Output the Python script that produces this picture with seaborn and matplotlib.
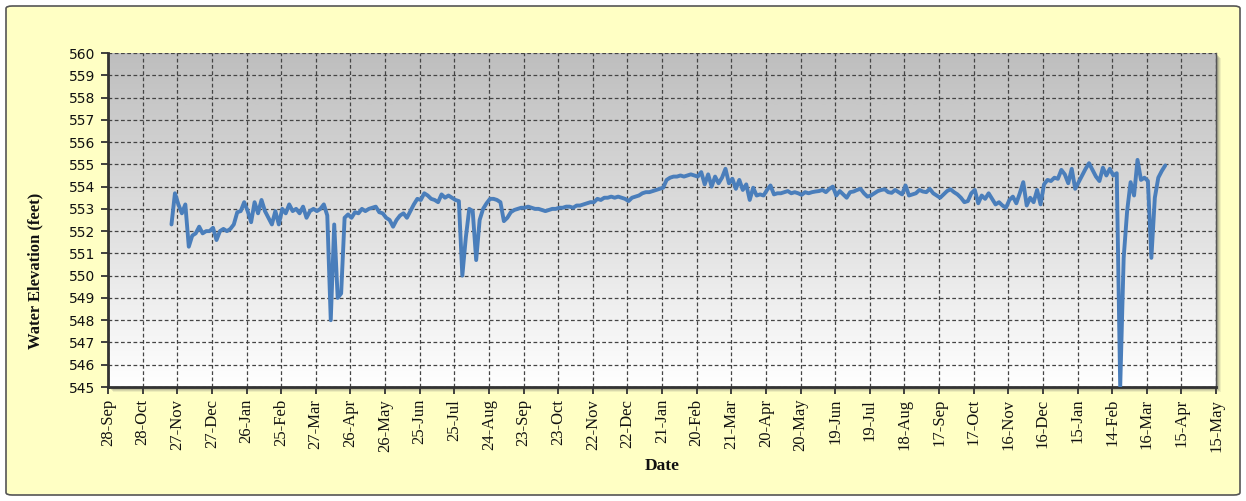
import numpy as np
import pandas as pd
import matplotlib
matplotlib.use('Agg')
import matplotlib.pyplot as plt
from matplotlib.colors import LinearSegmentedColormap
from matplotlib.patches import FancyBboxPatch, Rectangle
import seaborn as sns

# water elevation readings, one every 3 days starting 22-Nov-2010
start_date = '2010-11-22'
step_days = 3
elevation = [
    552.3, 553.7, 553.2, 552.8, 553.2, 551.3, 551.8, 551.9, 552.2, 551.9,
    552.0, 552.0, 552.15, 551.6, 552.0, 552.1, 552.0, 552.1, 552.3, 552.85,
    552.9, 553.3, 552.9, 552.4, 553.3, 552.8, 553.4, 552.9, 552.6, 552.3,
    552.9, 552.3, 553.0, 552.8, 553.2, 552.9, 553.0, 552.8, 553.1, 552.6,
    552.9, 553.0, 552.9, 553.0, 553.2, 552.7, 548.0, 552.3, 549.0, 549.2,
    552.6, 552.75, 552.6, 552.85, 552.8, 553.0, 552.9, 553.0, 553.05, 553.1,
    552.85, 552.8, 552.6, 552.5, 552.2, 552.5, 552.7, 552.8, 552.6, 552.9,
    553.2, 553.45, 553.4, 553.7, 553.6, 553.45, 553.4, 553.3, 553.65, 553.5,
    553.6, 553.5, 553.4, 553.35, 550.0, 551.7, 553.0, 552.9, 550.7, 552.5,
    553.0, 553.25, 553.45, 553.45, 553.4, 553.3, 552.45, 552.6, 552.85, 552.95,
    553.0, 553.05, 553.05, 553.1, 553.05, 553.0, 553.0, 552.95, 552.9, 552.95,
    553.0, 553.0, 553.05, 553.05, 553.1, 553.1, 553.05, 553.15, 553.15, 553.2,
    553.25, 553.3, 553.3, 553.45, 553.4, 553.5, 553.5, 553.55, 553.5, 553.55,
    553.5, 553.45, 553.35, 553.5, 553.55, 553.6, 553.7, 553.75, 553.75, 553.8,
    553.85, 553.9, 553.95, 554.3, 554.4, 554.45, 554.45, 554.5, 554.45, 554.5,
    554.55, 554.5, 554.45, 554.65, 554.1, 554.55, 554.0, 554.45, 554.15, 554.4,
    554.8, 554.15, 554.35, 553.9, 554.3, 553.85, 554.1, 553.4, 553.95, 553.6,
    553.65, 553.6, 553.85, 554.05, 553.65, 553.7, 553.7, 553.75, 553.8, 553.7,
    553.75, 553.7, 553.63, 553.75, 553.7, 553.75, 553.78, 553.8, 553.85, 553.75,
    553.9, 554.0, 553.6, 553.8, 553.65, 553.5, 553.75, 553.78, 553.85, 553.9,
    553.7, 553.55, 553.6, 553.7, 553.8, 553.85, 553.88, 553.75, 553.72, 553.85,
    553.75, 553.65, 554.05, 553.6, 553.65, 553.7, 553.85, 553.78, 553.75, 553.9,
    553.7, 553.6, 553.5, 553.65, 553.8, 553.88, 553.75, 553.65, 553.5, 553.3,
    553.35, 553.7, 553.85, 553.25, 553.6, 553.45, 553.7, 553.45, 553.2, 553.3,
    553.15, 553.05, 553.4, 553.55, 553.25, 553.7, 554.2, 553.15, 553.5, 553.3,
    553.85, 553.2, 554.1, 554.3, 554.25, 554.4, 554.35, 554.75, 554.55, 554.15,
    554.8, 553.9, 554.2, 554.5, 554.8, 555.05, 554.75, 554.45, 554.25, 554.85,
    554.5, 554.8, 554.5, 554.6, 545.0, 550.8, 552.9, 554.2, 553.6, 555.2,
    554.3, 554.4, 554.25, 550.8, 553.5, 554.4, 554.7, 554.95,
]

tick_start = '2010-09-28'
tick_labels = ['28-Sep', '28-Oct', '27-Nov', '27-Dec', '26-Jan', '25-Feb', '27-Mar',
               '26-Apr', '26-May', '25-Jun', '25-Jul', '24-Aug', '23-Sep', '23-Oct',
               '22-Nov', '22-Dec', '21-Jan', '20-Feb', '21-Mar', '20-Apr', '20-May',
               '19-Jun', '19-Jul', '18-Aug', '17-Sep', '17-Oct', '16-Nov', '16-Dec',
               '15-Jan', '14-Feb', '16-Mar', '15-Apr', '15-May']
y_ticks = list(range(545, 561))

df = pd.DataFrame({
    'Date': pd.date_range(start_date, periods=len(elevation), freq=f'{step_days}D'),
    'Elevation': elevation,
})
tick_dates = pd.date_range(tick_start, periods=len(tick_labels), freq='30D')

sns.set_style('ticks')
plt.rcParams['font.family'] = ['DejaVu Sans']

W, H = 1246, 501
fig = plt.figure(figsize=(W / 100, H / 100), dpi=100)
fig.patch.set_facecolor('white')

# yellow chart frame
frame = FancyBboxPatch((6 / W, 6 / H), 1234 / W, 489 / H,
                       boxstyle='round,pad=0,rounding_size=0.005',
                       transform=fig.transFigure, facecolor='#FFFFC4',
                       edgecolor='#555555', linewidth=1.2, zorder=-3)
fig.patches.append(frame)

left, right, top, bottom = 108, 1216, 53, 387
ax = fig.add_axes([left / W, (H - bottom) / H, (right - left) / W, (bottom - top) / H])

# soft drop shadow for plot area
for off, a in [(5, 0.10), (4, 0.15), (3, 0.2), (2, 0.25)]:
    fig.patches.append(Rectangle(((left + off) / W, (H - bottom - off) / H),
                                 (right - left) / W, (bottom - top) / H,
                                 transform=fig.transFigure, facecolor='#606060',
                                 edgecolor='none', alpha=a, zorder=-2))

sns.lineplot(data=df, x='Date', y='Elevation', color='#4A7EBB', linewidth=2.8, ax=ax, zorder=3)

grad = LinearSegmentedColormap.from_list('bg', ['#BEBEBE', '#FFFFFF'], N=1024)
ax.imshow(np.linspace(0, 1, 1024).reshape(-1, 1), cmap=grad, extent=[0, 1, 0, 1],
          transform=ax.transAxes, aspect='auto', interpolation='bilinear', zorder=0)

ax.set_xlim(tick_dates[0], tick_dates[-1])
ax.set_ylim(545, 560)
ax.set_xticks(tick_dates)
ax.set_xticklabels(tick_labels, rotation=90, family='Liberation Serif', fontsize=12, color='#111111')
ax.set_yticks(y_ticks)
ax.set_yticklabels([str(v) for v in y_ticks], fontsize=10, color='#111111')

ax.grid(True, color='#444444', linestyle=(0, (3, 2)), linewidth=0.9)
ax.tick_params(axis='both', direction='out', length=5, width=1.3, color='#333333')
ax.tick_params(axis='y', pad=4)

for s in ['left', 'bottom']:
    ax.spines[s].set_color('#333333')
    ax.spines[s].set_linewidth(2)
ax.spines['right'].set_visible(True)
ax.spines['right'].set_color('#555555')
ax.spines['right'].set_linewidth(1)
ax.spines['top'].set_visible(False)

ax.set_xlabel('')
ax.set_ylabel('')
fig.text(35 / W, 1 - 271 / H, 'Water Elevation (feet)', rotation=90, ha='center', va='center',
         family='Liberation Serif', fontweight='bold', fontsize=12, color='#111111')
fig.text(662 / W, 1 - 466 / H, 'Date', ha='center', va='center',
         family='Liberation Serif', fontweight='bold', fontsize=12.5, color='#111111')

fig.savefig('out.png', dpi=100, facecolor=fig.get_facecolor())
